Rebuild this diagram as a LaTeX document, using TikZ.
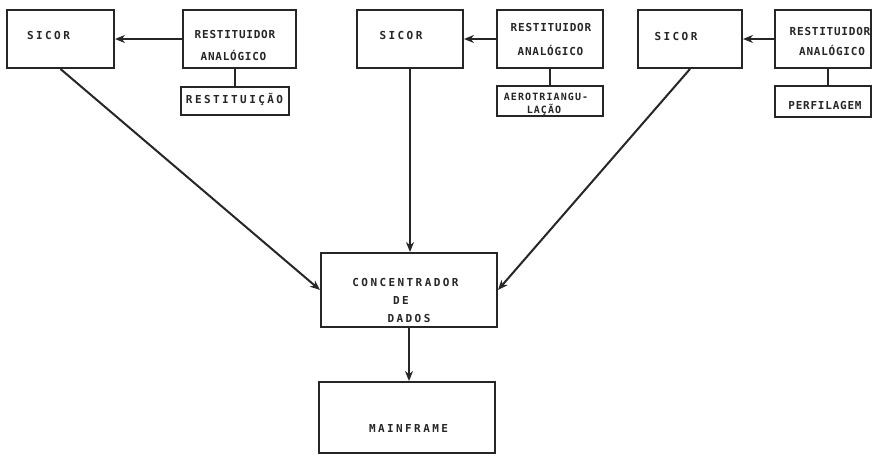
\documentclass[tikz,border=0pt]{standalone}
\usepackage{fontspec}
\usetikzlibrary{arrows.meta}
\newfontfamily\fw[LetterSpace=22]{DejaVu Sans Mono}
\newfontfamily\fn[LetterSpace=7]{DejaVu Sans Mono}
\newfontfamily\fs[LetterSpace=11]{DejaVu Sans Mono}
\tikzset{
  box/.style={draw=black!85, line width=2pt, inner sep=0pt},
  wtxt/.style={inner sep=0pt, text height=8pt, text depth=0pt, font=\fw\bfseries\fontsize{11}{13}\selectfont, text=black!85},
  ntxt/.style={inner sep=0pt, text height=8pt, text depth=0pt, font=\fn\bfseries\fontsize{11}{13}\selectfont, text=black!85},
  stxt/.style={inner sep=0pt, text height=7pt, text depth=0pt, font=\fs\bfseries\fontsize{10}{11}\selectfont, text=black!85},
  conn/.style={draw=black!85, line width=2pt},
  arr/.style={conn, -{Stealth[length=10pt,width=8pt]}}
}
\begin{document}
\begin{tikzpicture}[x=1pt,y=-1pt]
\fill[white] (0,0) rectangle (873,457);
\useasboundingbox (0,0) rectangle (873,457);
% boxes
\node[box, minimum width=107pt, minimum height=58pt] (s1) at (60.5,39) {};
\node[box, minimum width=113pt, minimum height=58pt] (r1) at (239.5,39) {};
\node[box, minimum width=108pt, minimum height=28pt] (b1) at (235,101) {};
\node[box, minimum width=106pt, minimum height=58pt] (s2) at (410,39) {};
\node[box, minimum width=106pt, minimum height=58pt] (r2) at (550,39) {};
\node[box, minimum width=106pt, minimum height=30pt] (b2) at (550,101) {};
\node[box, minimum width=104pt, minimum height=58pt] (s3) at (690,39) {};
\node[box, minimum width=96pt, minimum height=58pt] (r3) at (823,39) {};
\node[box, minimum width=96pt, minimum height=31pt] (b3) at (823,101.5) {};
\node[box, minimum width=176pt, minimum height=74pt] (c) at (409,290) {};
\node[box, minimum width=176pt, minimum height=71pt] (m) at (407,417.5) {};
% texts
\node[wtxt] (s1t) at (48.5,36) {SICOR};
\node[wtxt] (s2t) at (401,36) {SICOR};
\node[wtxt] (s3t) at (676,37) {SICOR};
\node[ntxt] (r1a) at (235,35) {RESTITUIDOR};
\node[ntxt] (r1b) at (233.5,57) {ANALÓGICO};
\node[ntxt] (r2a) at (551,28) {RESTITUIDOR};
\node[ntxt] (r2b) at (550.5,52) {ANALÓGICO};
\node[ntxt] (r3a) at (830,32) {RESTITUIDOR};
\node[ntxt] (r3b) at (832,52) {ANALÓGICO};
\node[wtxt] (b1t) at (234.5,100) {RESTITUIÇÃO};
\node[stxt] (b2a) at (546,97) {AEROTRIANGU-};
\node[stxt] (b2b) at (544,110) {LAÇÃO};
\node[ntxt] (b3t) at (825,106) {PERFILAGEM};
\node[wtxt] (ct1) at (405.5,283) {CONCENTRADOR};
\node[wtxt] (ct2) at (401,300) {DE};
\node[wtxt] (ct3) at (409,318) {DADOS};
\node[wtxt] (mt) at (408.5,428) {MAINFRAME};
% connectors
\draw[arr] (r1.west) -- (s1.east);
\draw[arr] (r2.west) -- (s2.east);
\draw[arr] (r3.west) -- (s3.east);
\draw[conn] (b1.north) -- (b1.north |- r1.south);
\draw[conn] (b2.north) -- (b2.north |- r2.south);
\draw[conn] (r3.south) ++(5,0) coordinate (r3d) -- (r3d |- b3.north);
\draw[arr] (s1.south) -- (c.west);
\draw[arr] (s2.south) -- (s2.south |- c.north);
\draw[arr] (s3.south) -- (c.east);
\draw[arr] (c.south) -- (c.south |- m.north);
\end{tikzpicture}
\end{document}
